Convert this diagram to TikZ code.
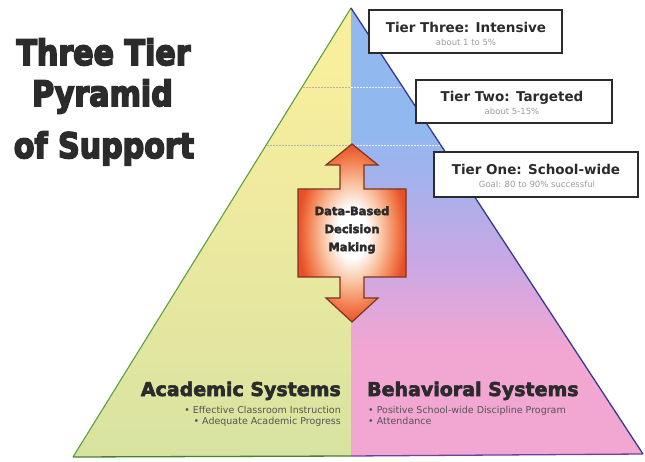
\documentclass[tikz,border=0pt]{standalone}
\usepackage{fontspec}
\setmainfont{DejaVu Sans}
\newfontfamily\titlefont{DejaVu Sans Bold}[FakeBold=5]
\newfontfamily\headfont{DejaVu Sans Bold}[FakeBold=3]
\definecolor{leftTop}{HTML}{F8EE9C}
\definecolor{leftMid}{HTML}{ECE9A0}
\definecolor{leftBot}{HTML}{D8E3A0}
\definecolor{rTop}{HTML}{92B8F0}
\definecolor{rUp}{HTML}{A8B0EC}
\definecolor{rMid}{HTML}{C8A8E4}
\definecolor{rBot}{HTML}{F2A6D2}
\definecolor{edgeL}{HTML}{5AA040}
\definecolor{edgeR}{HTML}{34389A}
\definecolor{edgeBR}{HTML}{7040A0}
\definecolor{arrowA}{HTML}{F9C2A0}
\definecolor{arrowB}{HTML}{F27A4A}
\definecolor{arrowC}{HTML}{E8502A}
\definecolor{arrowEdge}{HTML}{7A3520}
\definecolor{inkDark}{HTML}{2B2B2B}
\definecolor{inkGray}{HTML}{555555}
\definecolor{inkLight}{HTML}{9C9C9C}
\pgfdeclareradialshading{arrowshade}{\pgfpoint{0bp}{0bp}}{color(0bp)=(white); color(7bp)=(white); color(14bp)=(arrowA); color(21bp)=(arrowB); color(25bp)=(arrowC); color(50bp)=(arrowC)}
\pgfdeclareverticalshading{rightshade}{100bp}{color(0bp)=(rBot); color(25bp)=(rBot); color(37bp)=(rBot); color(47bp)=(rMid); color(55bp)=(rUp); color(61bp)=(rTop); color(75bp)=(rTop); color(100bp)=(rTop)}
\pgfdeclareverticalshading{leftshade}{100bp}{color(0bp)=(leftBot); color(25bp)=(leftBot); color(50bp)=(leftMid); color(68bp)=(leftTop); color(75bp)=(leftTop); color(100bp)=(leftTop)}
\begin{document}
\begin{tikzpicture}[x=1pt,y=-1pt,
  titletext/.style={inner sep=0pt, anchor=base, text=inkDark, font=\titlefont\fontsize{35}{40}\selectfont},
  systext/.style={inner sep=0pt, text=inkDark, font=\headfont\fontsize{19}{22}\selectfont},
  bullettext/.style={inner sep=0pt, text=inkGray, font=\fontsize{9.5}{11}\selectfont},
  tierbox/.style={draw=inkDark, line width=1.3pt, fill=white, inner sep=0pt},
  tiertitle/.style={inner sep=0pt, anchor=base, text=inkDark, font=\bfseries\fontsize{13.5}{16}\selectfont},
  tiersub/.style={inner sep=0pt, anchor=base, text=inkLight, font=\fontsize{8.5}{10}\selectfont},
  arrowtext/.style={inner sep=0pt, align=center, text=inkDark, font=\headfont\fontsize{11.5}{18}\selectfont},
  tierlineL/.style={draw=black!30, dash pattern=on 1.5pt off 1.5pt, line width=0.8pt},
  tierlineR/.style={draw=white!80!rTop, dash pattern=on 1.5pt off 1.5pt, line width=0.9pt}
]
\useasboundingbox (0,0) rectangle (645,462);
\fill[white] (0,0) rectangle (645,462);

% pyramid
\coordinate (apex) at (351,8);
\coordinate (bl) at (73,457);
\coordinate (bm) at (351,456);
\coordinate (br) at (643,454);
\shade[shading=leftshade] (apex) -- (bl) -- (bm) -- cycle;
\shade[shading=rightshade] (apex) -- (bm) -- (br) -- cycle;

\begin{scope}
  \clip (apex) -- (bl) -- (bm) -- cycle;
  \draw[tierlineL] (0,87) -- (645,87);
  \draw[tierlineL] (0,145) -- (645,145);
\end{scope}
\begin{scope}
  \clip (apex) -- (bm) -- (br) -- cycle;
  \draw[tierlineR] (0,87) -- (645,87);
  \draw[tierlineR] (0,145) -- (645,145);
\end{scope}

\draw[edgeL, line width=1.1pt] (bl) -- (apex);
\draw[edgeR, line width=1.3pt] (apex) -- (br);
\draw[edgeL!80!black, line width=1.3pt] (bl) -- (bm);
\draw[edgeBR, line width=1.3pt] (bm) -- (br);

% title
\node[titletext] (title1) at (103.5,65) {\scalebox{0.86}[1]{Three Tier}};
\node[titletext] (title2) at (102.5,106) {\scalebox{0.86}[1]{Pyramid}};
\node[titletext] (title3) at (104,158) {\scalebox{0.86}[1]{of Support}};

% double arrow
\shade[shading=arrowshade, draw=arrowEdge, line width=1.2pt, line join=miter]
  (352,144) -- (378,165) -- (364,165) -- (364,189) -- (406,189) -- (406,277)
  -- (364,277) -- (364,298) -- (378,298) -- (352,322) -- (326,298) -- (340,298)
  -- (340,277) -- (298,277) -- (298,189) -- (340,189) -- (340,165) -- (326,165) -- cycle;
\node[arrowtext] (dbdm) at (352,230) {Data-Based\\Decision\\Making};

% tier boxes
\node[tierbox, minimum width=193, minimum height=43] (t3) at (465.5,31.5) {};
\node[tiertitle] (t3t) at (466,33) {Tier Three: Intensive};
\node[tiersub] (t3s) at (466,46) {about 1 to 5\%};

\node[tierbox, minimum width=196, minimum height=43] (t2) at (514,101.5) {};
\node[tiertitle] (t2t) at (512,102) {Tier Two: Targeted};
\node[tiersub] (t2s) at (512,115) {about 5-15\%};

\node[tierbox, minimum width=204, minimum height=45] (t1) at (536,174.5) {};
\node[tiertitle] (t1t) at (536,175) {Tier One: School-wide};
\node[tiersub] (t1s) at (537,188) {Goal: 80 to 90\% successful};

% systems
\node[systext, anchor=base east] (acad) at (341,396) {Academic Systems};
\node[bullettext, anchor=base east] (acad1) at (341,413) {• Effective Classroom Instruction};
\node[bullettext, anchor=base east] (acad2) at (341,424) {• Adequate Academic Progress};

\node[systext, anchor=base west] (beh) at (367,396) {Behavioral Systems};
\node[bullettext, anchor=base west] (beh1) at (368,413) {• Positive School-wide Discipline Program};
\node[bullettext, anchor=base west] (beh2) at (368,424) {• Attendance};
\end{tikzpicture}
\end{document}
